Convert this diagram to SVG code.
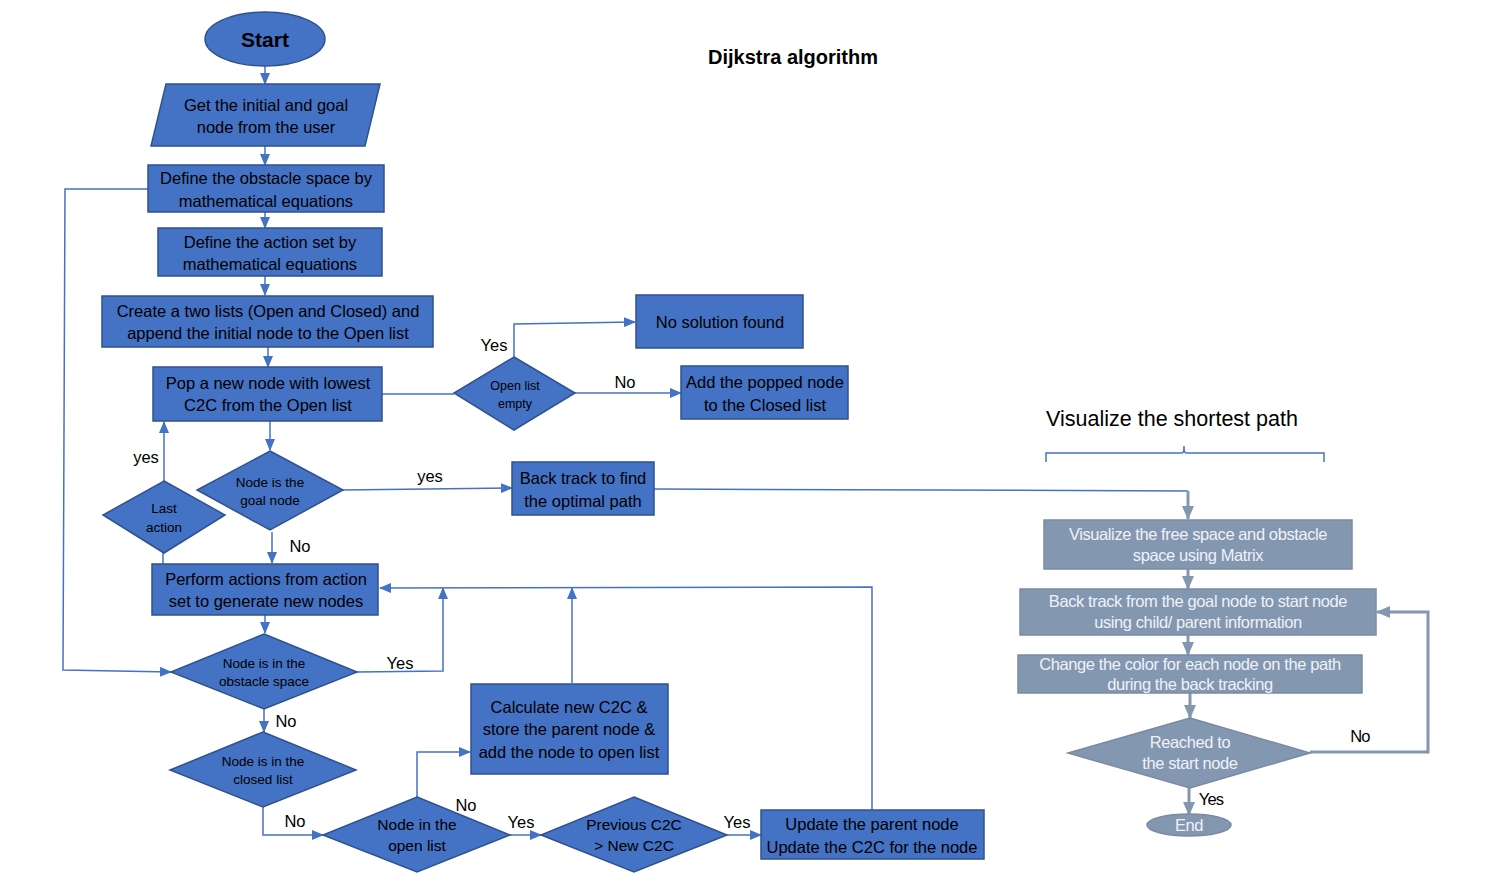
<svg xmlns="http://www.w3.org/2000/svg" width="1487" height="884" viewBox="0 0 1487 884">
<style>
.n{fill:#4472C4;stroke:#2F528F;stroke-width:1.5}
.g{fill:#8497B0;stroke:#7A8AA3;stroke-width:1.5}
.t{font-family:"Liberation Sans",Arial,sans-serif;font-size:16.5px;fill:#000;text-anchor:middle}
.s{font-family:"Liberation Sans",Arial,sans-serif;font-size:13.5px;fill:#000;text-anchor:middle}
.m{font-family:"Liberation Sans",Arial,sans-serif;font-size:15.5px;fill:#000;text-anchor:middle}
.gt{font-family:"Liberation Sans",Arial,sans-serif;font-size:16.5px;fill:#EEF2F8;text-anchor:middle;letter-spacing:-0.4px}
.l{font-family:"Liberation Sans",Arial,sans-serif;font-size:16.5px;fill:#000;text-anchor:middle}
.c{fill:none;stroke:#4472C4;stroke-width:1.5}
.cg{fill:none;stroke:#8497B0;stroke-width:3}
</style>
<defs>
<marker id="a" markerUnits="userSpaceOnUse" markerWidth="12" markerHeight="10" refX="11" refY="5" orient="auto"><path d="M0,0 L12,5 L0,10 z" fill="#4472C4"/></marker>
<marker id="ag" markerUnits="userSpaceOnUse" markerWidth="14" markerHeight="12" refX="13" refY="6" orient="auto"><path d="M0,0 L14,6 L0,12 z" fill="#8497B0"/></marker>
</defs>
<rect width="1487" height="884" fill="#fff"/>
<text x="793" y="64" font-family="Liberation Sans,Arial,sans-serif" font-size="20" font-weight="bold" text-anchor="middle">Dijkstra algorithm</text>

<g id="connectors">
<path class="c" d="M265,66 V84" marker-end="url(#a)"/>
<path class="c" d="M265,146 V165" marker-end="url(#a)"/>
<path class="c" d="M265,212 V228" marker-end="url(#a)"/>
<path class="c" d="M265,276 V295" marker-end="url(#a)"/>
<path class="c" d="M268,347 V367" marker-end="url(#a)"/>
<path class="c" d="M382,394 H454"/>
<path class="c" d="M514,357 V324 L635,322" marker-end="url(#a)"/>
<path class="c" d="M575,393 H681" marker-end="url(#a)"/>
<path class="c" d="M270,421 V450" marker-end="url(#a)"/>
<path class="c" d="M343,490 L512,488" marker-end="url(#a)"/>
<path class="c" d="M654,489 L1188,491"/>
<path class="c" d="M164,481 V422" marker-end="url(#a)"/>
<path class="c" d="M163,564 V536" marker-end="url(#a)"/>
<path class="c" d="M272,532 V563" marker-end="url(#a)"/>
<path class="c" d="M265,615 V633" marker-end="url(#a)"/>
<path class="c" d="M357,672 L443,671 V588" marker-end="url(#a)"/>
<path class="c" d="M872,810 V587 L380,588" marker-end="url(#a)"/>
<path class="c" d="M572,683 V588" marker-end="url(#a)"/>
<path class="c" d="M148,189 H65 L63,670 L171,672" marker-end="url(#a)"/>
<path class="c" d="M264,709 V732" marker-end="url(#a)"/>
<path class="c" d="M263,807 V835 H323" marker-end="url(#a)"/>
<path class="c" d="M417,797 V752 H470" marker-end="url(#a)"/>
<path class="c" d="M510,835 H541" marker-end="url(#a)"/>
<path class="c" d="M727,835 H761" marker-end="url(#a)"/>
<path class="c" stroke-width="1.2" d="M1046,462 V453 H1182 Q1184,453 1184,446 Q1184,453 1186,453 H1324 V462"/>
<path class="cg" d="M1188,491 V519" marker-end="url(#ag)"/>
<path class="cg" d="M1188,569 V589" marker-end="url(#ag)"/>
<path class="cg" d="M1188,635 V655" marker-end="url(#ag)"/>
<path class="cg" d="M1190,693 V718" marker-end="url(#ag)"/>
<path class="cg" d="M1310,752 H1428 V612 H1377" marker-end="url(#ag)"/>
<path class="cg" d="M1189,788 V815" marker-end="url(#ag)"/>
<text class="l" x="494" y="351">Yes</text>
<text class="l" x="625" y="388">No</text>
<text class="l" x="430" y="482">yes</text>
<text class="l" x="146" y="463">yes</text>
<text class="l" x="300" y="552">No</text>
<text class="l" x="400" y="669">Yes</text>
<text class="l" x="286" y="727">No</text>
<text class="l" x="295" y="827">No</text>
<text class="l" x="466" y="811">No</text>
<text class="l" x="521" y="828">Yes</text>
<text class="l" x="737" y="828">Yes</text>
<text class="l" x="1360" y="742" style="letter-spacing:-0.8px">No</text>
<text class="l" x="1211" y="805" style="letter-spacing:-0.8px">Yes</text>
</g>

<g id="start"><ellipse class="n" cx="265" cy="39" rx="60" ry="27"/><text class="t" x="265" y="47" style="font-size:21px;font-weight:bold">Start</text></g>
<g id="input"><polygon class="n" points="166,84 380,84 365,146 151,146"/><text class="t" x="266" y="111">Get the initial and goal</text><text class="t" x="266" y="133">node from the user</text></g>
<g id="obstacle-def"><rect class="n" x="148" y="165" width="236" height="47"/><text class="t" x="266" y="184">Define the obstacle space by</text><text class="t" x="266" y="207">mathematical equations</text></g>
<g id="action-def"><rect class="n" x="158" y="228" width="224" height="48"/><text class="t" x="270" y="248">Define the action set by</text><text class="t" x="270" y="270">mathematical equations</text></g>
<g id="lists"><rect class="n" x="102" y="296" width="331" height="51"/><text class="t" x="268" y="317">Create a two lists (Open and Closed) and</text><text class="t" x="268" y="339">append the initial node to the Open list</text></g>
<g id="pop"><rect class="n" x="153" y="367" width="229" height="54"/><text class="t" x="268" y="389">Pop a new node with lowest</text><text class="t" x="268" y="411">C2C from the Open list</text></g>
<g id="open-empty"><polygon class="n" points="514,357 575,393 514,430 454,393"/><text class="s" x="515" y="390" style="font-size:12.5px">Open list</text><text class="s" x="515" y="408" style="font-size:12.5px">empty</text></g>
<g id="no-solution"><rect class="n" x="636" y="295" width="167" height="53"/><text class="t" x="720" y="328">No solution found</text></g>
<g id="add-closed"><rect class="n" x="681" y="366" width="167" height="53"/><text class="t" x="765" y="388">Add the popped node</text><text class="t" x="765" y="411">to the Closed list</text></g>
<g id="goal"><polygon class="n" points="270,451 343,490 270,530 197,490"/><text class="s" x="270" y="487">Node is the</text><text class="s" x="270" y="505">goal node</text></g>
<g id="backtrack"><rect class="n" x="512" y="462" width="142" height="53"/><text class="t" x="583" y="484">Back track to find</text><text class="t" x="583" y="507">the optimal path</text></g>
<g id="last-action"><polygon class="n" points="164,481 225,515 164,553 103,515"/><text class="s" x="164" y="513">Last</text><text class="s" x="164" y="532">action</text></g>
<g id="perform"><rect class="n" x="152" y="564" width="226" height="51"/><text class="t" x="266" y="585">Perform actions from action</text><text class="t" x="266" y="607">set to generate new nodes</text></g>
<g id="in-obstacle"><polygon class="n" points="264,634 357,672 264,709 171,672"/><text class="s" x="264" y="668">Node is in the</text><text class="s" x="264" y="686">obstacle space</text></g>
<g id="in-closed"><polygon class="n" points="263,732 356,770 263,807 170,770"/><text class="s" x="263" y="766">Node is in the</text><text class="s" x="263" y="784">closed list</text></g>
<g id="in-open"><polygon class="n" points="417,797 510,835 417,872 323,835"/><text class="m" x="417" y="830">Node in the</text><text class="m" x="417" y="851">open list</text></g>
<g id="calculate"><rect class="n" x="471" y="684" width="197" height="90"/><text class="t" x="569" y="713">Calculate new C2C &amp;</text><text class="t" x="569" y="735">store the parent node &amp;</text><text class="t" x="569" y="758">add the node to open list</text></g>
<g id="previous"><polygon class="n" points="634,797 727,835 634,872 541,835"/><text class="m" x="634" y="830">Previous C2C</text><text class="m" x="634" y="851">&gt; New C2C</text></g>
<g id="update"><rect class="n" x="761" y="810" width="223" height="49"/><text class="t" x="872" y="830">Update the parent node</text><text class="t" x="872" y="853">Update the C2C for the node</text></g>

<text x="1172" y="426" font-family="Liberation Sans,Arial,sans-serif" font-size="21.5" text-anchor="middle">Visualize the shortest path</text>
<g id="visualize"><rect class="g" x="1044" y="520" width="308" height="49"/><text class="gt" x="1198" y="540">Visualize the  free space and obstacle</text><text class="gt" x="1198" y="561">space using Matrix</text></g>
<g id="backtrack-goal"><rect class="g" x="1020" y="589" width="356" height="46"/><text class="gt" x="1198" y="607">Back track from the goal node to start node</text><text class="gt" x="1198" y="628">using child/ parent information</text></g>
<g id="change-color"><rect class="g" x="1018" y="655" width="344" height="38"/><text class="gt" x="1190" y="670">Change the color for each node  on the path</text><text class="gt" x="1190" y="690">during the back tracking</text></g>
<g id="reached"><polygon class="g" points="1190,718 1310,753 1190,788 1068,753"/><text class="gt" x="1190" y="748">Reached to</text><text class="gt" x="1190" y="769">the start node</text></g>
<g id="end"><ellipse class="g" cx="1189" cy="825" rx="42" ry="11"/><text class="gt" x="1189" y="831">End</text></g>
</svg>
